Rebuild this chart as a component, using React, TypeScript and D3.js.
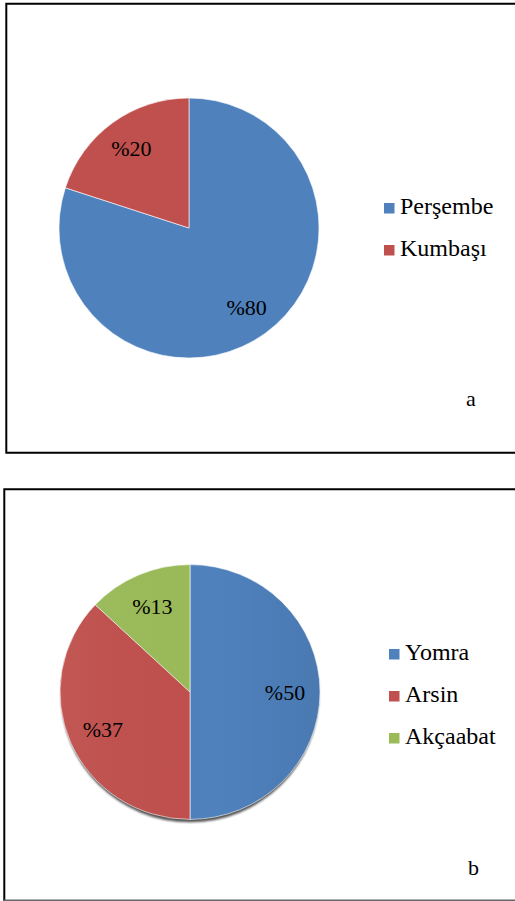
import React from "react";
import * as d3 from "d3";

const categoriesA = ["Perşembe", "Kumbaşı"];
const valuesA = [80, 20];
const colorsA = ["#4F81BD", "#C0504D"];

const categoriesB = ["Yomra", "Arsin", "Akçaabat"];
const valuesB = [50, 37, 13];
const colorsB = ["#4F81BD", "#C0504D", "#9BBB59"];

const FONT = "'Liberation Serif', 'Times New Roman', serif";

type PieProps = {
  values: number[];
  colors: string[];
  cx: number;
  cy: number;
  r: number;
  labelR: number;
  shaded?: boolean;
};

function Pie({ values, colors, cx, cy, r, labelR, shaded }: PieProps) {
  const pie = d3.pie<number>().sort(null).value((d) => d);
  const arcs = pie(values);
  const arc = d3.arc<d3.PieArcDatum<number>>().innerRadius(0).outerRadius(r);
  const labelArc = d3
    .arc<d3.PieArcDatum<number>>()
    .innerRadius(labelR)
    .outerRadius(labelR);
  return (
    <g transform={`translate(${cx},${cy})${shaded ? " scale(1,0.98)" : ""}`}>
      {shaded && (
        <ellipse
          cx={0}
          cy={3}
          rx={r - 1}
          ry={r}
          fill="#1a1a1a"
          opacity={0.75}
          filter="url(#blurShadow)"
        />
      )}
      {arcs.map((a, i) => (
        <path
          key={i}
          d={arc(a) || ""}
          fill={colors[i]}
          stroke="#ffffff"
          strokeWidth={0.6}
        />
      ))}
      {shaded && (
        <circle cx={0} cy={0} r={r} fill="url(#shade)" pointerEvents="none" />
      )}
      {arcs.map((a, i) => {
        const [lx, ly] = labelArc.centroid(a);
        return (
          <text
            key={"l" + i}
            x={lx}
            y={ly}
            dy="0.35em"
            textAnchor="middle"
            fontFamily={FONT}
            fontSize={22}
            fill="#000"
          >
            {"%" + values[i]}
          </text>
        );
      })}
    </g>
  );
}

type LegendProps = {
  items: string[];
  colors: string[];
  x: number;
  y: number;
  step: number;
};

function Legend({ items, colors, x, y, step }: LegendProps) {
  const yScale = d3
    .scalePoint<string>()
    .domain(items)
    .range([y, y + step * (items.length - 1)]);
  return (
    <g>
      {items.map((name, i) => {
        const yy = yScale(name) as number;
        return (
          <g key={name}>
            <rect x={x} y={yy - 11} width={10.5} height={10.5} fill={colors[i]} />
            <text
              x={x + 16}
              y={yy}
              fontFamily={FONT}
              fontSize={24}
              fill="#000"
            >
              {name}
            </text>
          </g>
        );
      })}
    </g>
  );
}

export default function App() {
  return (
    <svg
      width={515}
      height={901}
      style={{ position: "absolute", left: 0, top: 0, background: "#fff" }}
    >
      <defs>
        <filter id="blurShadow" x="-20%" y="-20%" width="140%" height="140%">
          <feGaussianBlur stdDeviation="1.2" />
        </filter>
        <linearGradient id="shade" x1="0" y1="0" x2="1" y2="0">
          <stop offset="0%" stopColor="#ffffff" stopOpacity={0.04} />
          <stop offset="60%" stopColor="#000000" stopOpacity={0} />
          <stop offset="100%" stopColor="#000000" stopOpacity={0.06} />
        </linearGradient>
      </defs>
      <rect x={0} y={0} width={515} height={901} fill="#fff" />

      {/* Panel a frame */}
      <path
        d="M 520 3.7 L 6.3 3.7 L 6.3 452.7 L 520 452.7"
        fill="none"
        stroke="#000"
        strokeWidth={2}
      />
      <Pie
        values={valuesA}
        colors={colorsA}
        cx={189}
        cy={228}
        r={130}
        labelR={98}
      />
      <Legend items={categoriesA} colors={colorsA} x={384} y={214} step={42} />
      <text x={466} y={406} fontFamily={FONT} fontSize={22} fill="#000">
        a
      </text>

      {/* Panel b frame */}
      <path
        d="M 520 489.3 L 4.3 489.3 L 4.3 901"
        fill="none"
        stroke="#000"
        strokeWidth={2}
      />
      <line x1={4} y1={900.3} x2={520} y2={900.3} stroke="#666" strokeWidth={1.4} />
      <Pie
        values={valuesB}
        colors={colorsB}
        cx={190}
        cy={692}
        r={130}
        labelR={95}
        shaded
      />
      <Legend items={categoriesB} colors={colorsB} x={389} y={660} step={42} />
      <text x={468} y={875} fontFamily={FONT} fontSize={22} fill="#000">
        b
      </text>
    </svg>
  );
}
